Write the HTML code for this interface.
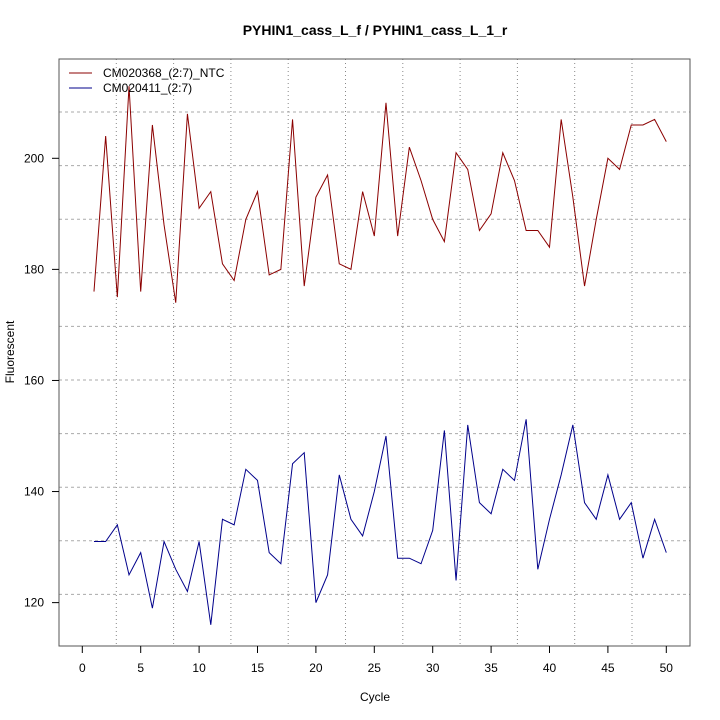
<!DOCTYPE html>
<html><head><style>body{margin:0;background:#fff}svg{display:block}text{font-family:"Liberation Sans",sans-serif;font-size:12px;fill:#000}</style></head><body>
<svg width="720" height="720" xmlns="http://www.w3.org/2000/svg">
<rect width="720" height="720" fill="#fff"/>
<g id="grid" stroke="#888" stroke-width="1" stroke-dasharray="1,3"></g>
<g id="hgrid" stroke="#aaa" stroke-width="1" stroke-dasharray="3,3"></g>
<rect x="59" y="59" width="631" height="587" fill="none" stroke="#555" stroke-width="1"/>
<g id="axes" stroke="#000"></g>
<polyline id="red" fill="none" stroke="#8b0000" stroke-width="1"/>
<polyline id="blue" fill="none" stroke="#00008b" stroke-width="1"/>
<text x="375" y="35" text-anchor="middle" style="font-weight:bold;font-size:14px">PYHIN1_cass_L_f / PYHIN1_cass_L_1_r</text>
<text x="375" y="701" text-anchor="middle">Cycle</text>
<text x="14" y="352" text-anchor="middle" transform="rotate(-90 14 352)">Fluorescent</text>
<line x1="69" y1="73" x2="92" y2="73" stroke="#8b0000"/>
<line x1="69" y1="88" x2="92" y2="88" stroke="#00008b"/>
<text x="103" y="77">CM020368_(2:7)_NTC</text>
<text x="103" y="92">CM020411_(2:7)</text>
<g id="lbl"></g>
</svg>
<script>
const X=c=>82.3+c*11.68, Y=v=>158.3+(200-v)*5.554;
const ns="http://www.w3.org/2000/svg";
function el(p,t,a,txt){const e=document.createElementNS(ns,t);for(const k in a)e.setAttribute(k,a[k]);if(txt!=null)e.textContent=txt;p.appendChild(e);}
const g=document.getElementById('grid'),h=document.getElementById('hgrid'),ax=document.getElementById('axes'),lb=document.getElementById('lbl');
for(let i=0;i<10;i++){const x=116.3+i*57.3;el(g,'line',{x1:x,y1:59,x2:x,y2:646});}
for(let i=0;i<10;i++){const y=112+i*53.6;el(h,'line',{x1:59,y1:y,x2:690,y2:y});}
for(let c=0;c<=50;c+=5){el(ax,'line',{x1:X(c),y1:646,x2:X(c),y2:653});el(lb,'text',{x:X(c),y:672,'text-anchor':'middle'},c);}
for(let v=120;v<=200;v+=20){el(ax,'line',{x1:52,y1:Y(v),x2:59,y2:Y(v)});el(lb,'text',{x:44,y:Y(v)+4,'text-anchor':'end'},v);}
const r=[176,204,175,213,176,206,188,174,208,191,194,181,178,189,194,179,180,207,177,193,197,181,180,194,186,210,186,202,196,189,185,201,198,187,190,201,196,187,187,184,207,193,177,189,200,198,206,206,207,203];
const b=[131,131,134,125,129,119,131,126,122,131,116,135,134,144,142,129,127,145,147,120,125,143,135,132,140,150,128,128,127,133,151,124,152,138,136,144,142,153,126,135,143,152,138,135,143,135,138,128,135,129];
document.getElementById('red').setAttribute('points',r.map((v,i)=>X(i+1)+','+Y(v)).join(' '));
document.getElementById('blue').setAttribute('points',b.map((v,i)=>X(i+1)+','+Y(v)).join(' '));
</script>
</body></html>
